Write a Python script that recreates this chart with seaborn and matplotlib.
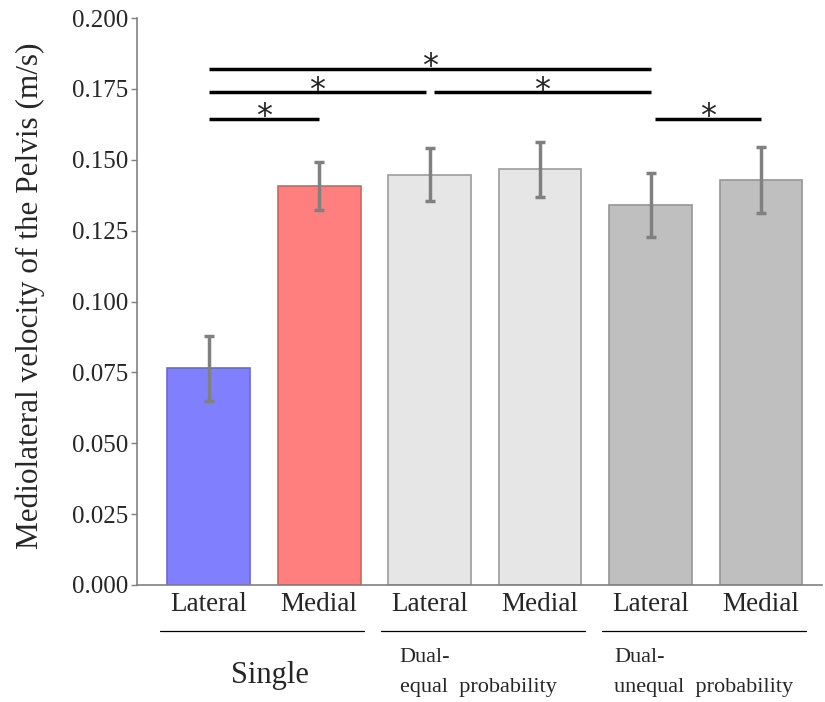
import matplotlib
matplotlib.use("Agg")
import matplotlib.pyplot as plt
import seaborn as sns
import pandas as pd

conditions = ["Single Lateral", "Single Medial", "Dual-equal Lateral", "Dual-equal Medial",
              "Dual-unequal Lateral", "Dual-unequal Medial"]
tick_labels = ["Lateral", "Medial", "Lateral", "Medial", "Lateral", "Medial"]
means = [0.0765, 0.1407, 0.1448, 0.1466, 0.1340, 0.1429]
errors = [0.0115, 0.0085, 0.0095, 0.0098, 0.0112, 0.0117]
face_colors = ["#8080FF", "#FF7F7F", "#E6E6E6", "#E6E6E6", "#BFBFBF", "#BFBFBF"]
edge_colors = ["#6A6AD0", "#D06464", "#9C9C9C", "#9C9C9C", "#959595", "#959595"]
groups = ["Single", "Dual-\nequal  probability", "Dual-\nunequal  probability"]
# significance brackets: (start index, end index, height)
sig_pairs = [(0, 1, 0.1645), (0, 2, 0.1738), (2, 4, 0.1738), (0, 4, 0.1820), (4, 5, 0.1645)]

sns.set_style("white")
plt.rcParams["font.family"] = ["Liberation Serif", "DejaVu Serif"]

fig = plt.figure(figsize=(8.25, 7.02), dpi=100)
ax = fig.add_axes([0.166, 0.1667, 0.83, 0.8075])

df = pd.DataFrame({"cond": conditions, "mean": means})
sns.barplot(data=df, x="cond", y="mean", hue="cond", palette=face_colors,
            order=conditions, hue_order=conditions, legend=False, width=0.75,
            errorbar=None, ax=ax, linewidth=1.2, saturation=1)
for patch, ec in zip(ax.patches, edge_colors):
    patch.set_edgecolor(ec)

ax.errorbar(range(len(means)), means, yerr=errors, fmt="none", ecolor="#808080",
            elinewidth=2.5, capsize=3.5, capthick=2.5, zorder=5)

ax.set_ylim(0, 0.2)
ax.set_xlim(-0.65, 5.55)
ax.set_yticks([0, 0.025, 0.05, 0.075, 0.1, 0.125, 0.15, 0.175, 0.2])
ax.set_yticklabels([f"{v:.3f}" for v in ax.get_yticks()], fontsize=18)
ax.set_xticks(range(len(tick_labels)))
ax.set_xticklabels(tick_labels, fontsize=19.5)
ax.set_xlabel("")
ax.set_ylabel("Mediolateral velocity of the Pelvis (m/s)", fontsize=22.5)
ax.yaxis.set_label_coords(-0.134, 0.51)
ax.tick_params(axis="y", length=4, width=1, color="#808080", direction="out", left=True, pad=2)
ax.tick_params(axis="x", length=0, pad=5)
sns.despine(ax=ax)
for s in ["left", "bottom"]:
    ax.spines[s].set_color("#808080")
    ax.spines[s].set_linewidth(1.2)

# significance lines
for (a, b, h) in sig_pairs:
    x0 = a + (0.04 if a == 2 or (a == 4 and b == 5) else 0)
    x1 = b - (0.03 if (a == 0 and b == 2) else 0)
    ax.plot([x0, x1], [h, h], color="black", lw=2.5, solid_capstyle="butt", clip_on=False)
    ax.text((x0 + x1) / 2, h - 0.0022, "*", ha="center", va="baseline", fontsize=23,
            fontfamily="DejaVu Sans")

# group lines and labels
trans = ax.get_xaxis_transform()
text_offsets = [0.55, -0.27, -0.33]
for i, g in enumerate(groups):
    x0 = 2 * i - 0.44
    x1 = 2 * i + 1.41
    ax.plot([x0, x1], [-0.082, -0.082], color="black", lw=0.9, transform=trans, clip_on=False)
    if i == 0:
        ax.text(2 * i + text_offsets[i], -0.16, g, transform=trans, ha="center", va="center",
                fontsize=22)
    else:
        ax.text(2 * i + text_offsets[i], -0.154, g, transform=trans, ha="left", va="center",
                fontsize=16, linespacing=1.8)

fig.savefig("out.png", dpi=100)
